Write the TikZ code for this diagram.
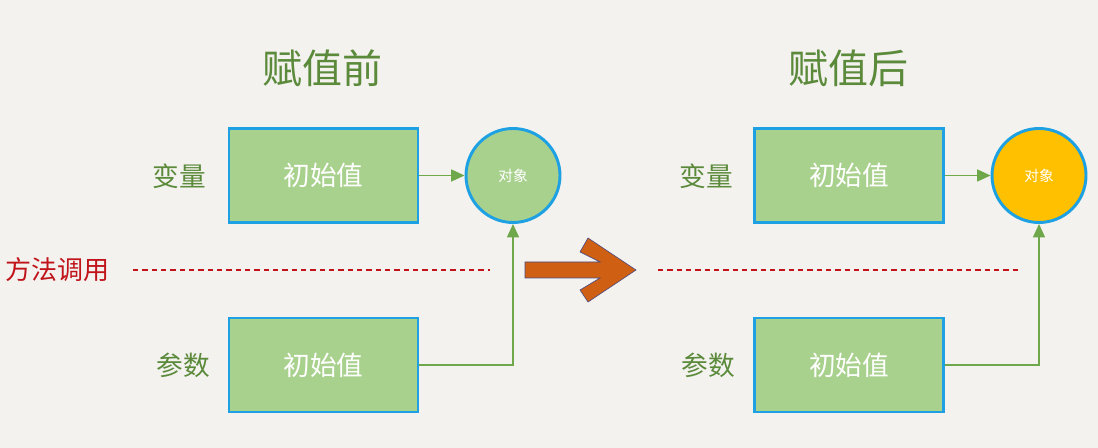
\documentclass[tikz,border=0pt]{standalone}
\usepackage{fontspec}
\setmainfont{Noto Sans CJK SC}
\usetikzlibrary{arrows.meta}
\definecolor{bgc}{HTML}{F4F2EF}
\definecolor{boxfill}{HTML}{A9D18E}
\definecolor{boxline}{HTML}{1DA1E2}
\definecolor{titlec}{HTML}{5A8A3A}
\definecolor{linkc}{HTML}{6FA84A}
\definecolor{redc}{HTML}{C0141A}
\definecolor{orangec}{HTML}{FFC000}
\definecolor{bigarrow}{HTML}{CF5F12}
\tikzset{
  valbox/.style={draw=boxline, line width=2.2pt, fill=boxfill, minimum width=189*0.75pt, minimum height=94*0.75pt, text=white, font=\fontsize{20}{24}\selectfont},
  objcirc/.style={circle, draw=boxline, line width=2.2pt, minimum size=94*0.75pt, text=white, font=\fontsize{11}{13}\selectfont},
  lbl/.style={text=titlec, font=\fontsize{20}{24}\selectfont},
  ttl/.style={text=titlec, font=\fontsize{30}{36}\selectfont},
  link/.style={draw=linkc, line width=1pt, -{Triangle[length=10pt,width=9pt]}},
  redline/.style={draw=redc, line width=0.8pt, dash pattern=on 4pt off 3pt},
}
\begin{document}
\begin{tikzpicture}[x=0.75pt,y=-0.75pt]
\fill[bgc] (0,0) rectangle (1098,448);
\useasboundingbox (0,0) rectangle (1098,448);
% left
\node[ttl] (t1) at (322,68) {赋值前};
\node[valbox] (v1) at (323.5,175.5) {初始值};
\node[valbox] (p1) at (323.5,365) {初始值};
\node[objcirc, fill=boxfill] (o1) at (513,175.5) {对象};
\node[lbl] (l1) at (179,176) {变量};
\node[lbl] (l2) at (183,365) {参数};
\node[text=redc, font=\fontsize{19.5}{24}\selectfont] (m1) at (57,270) {方法调用};
\coordinate (d1a) at (133,270);
\coordinate (d1b) at (490,270);
\draw[redline] (d1a) -- (d1b);
\draw[link] (v1.east) -- (o1.west);
\draw[link] (p1.east) -| (o1.south);
% big arrow
\filldraw[fill=bigarrow, draw=black!45!blue!40!gray, line width=0.5pt]
 (525,262) -- (600,262) -- (580,252) -- (588,238) -- (636,270) -- (588,302) -- (580,290) -- (600,278) -- (525,278) -- cycle;
% right
\node[ttl] (t2) at (848,68) {赋值后};
\node[valbox] (v2) at (849,175.5) {初始值};
\node[valbox] (p2) at (849,365) {初始值};
\node[objcirc, fill=orangec] (o2) at (1039,175.5) {对象};
\node[lbl] (l3) at (706,176) {变量};
\node[lbl] (l4) at (708,365) {参数};
\coordinate (d2a) at (658,270);
\coordinate (d2b) at (1018,270);
\draw[redline] (d2a) -- (d2b);
\draw[link] (v2.east) -- (o2.west);
\draw[link] (p2.east) -| (o2.south);
\end{tikzpicture}
\end{document}
